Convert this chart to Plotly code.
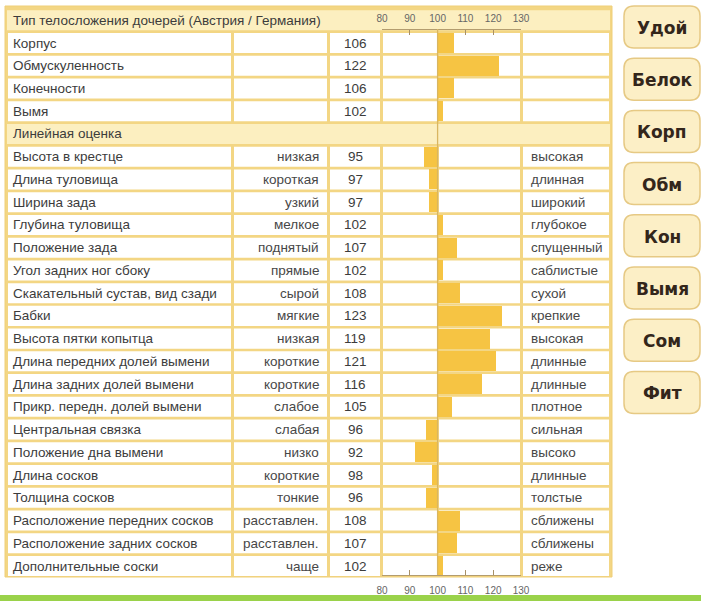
import plotly.graph_objects as go

# ---------------- data ----------------
header_type = "Тип телосложения дочерей (Австрия / Германия)"
header_linear = "Линейная оценка"

type_names = ["Корпус", "Обмускуленность", "Конечности", "Вымя"]
type_values = [106, 122, 106, 102]

lin_names = [
    "Высота в крестце", "Длина туловища", "Ширина зада", "Глубина туловища",
    "Положение зада", "Угол задних ног сбоку", "Скакательный сустав, вид сзади",
    "Бабки", "Высота пятки копытца", "Длина передних долей вымени",
    "Длина задних долей вымени", "Прикр. передн. долей вымени",
    "Центральная связка", "Положение дна вымени", "Длина сосков",
    "Толщина сосков", "Расположение передних сосков",
    "Расположение задних сосков", "Дополнительные соски",
]
lin_low = [
    "низкая", "короткая", "узкий", "мелкое", "поднятый", "прямые", "сырой",
    "мягкие", "низкая", "короткие", "короткие", "слабое", "слабая", "низко",
    "короткие", "тонкие", "расставлен.", "расставлен.", "чаще",
]
lin_values = [95, 97, 97, 102, 107, 102, 108, 123, 119, 121, 116, 105, 96, 92,
              98, 96, 108, 107, 102]
lin_high = [
    "высокая", "длинная", "широкий", "глубокое", "спущенный", "саблистые",
    "сухой", "крепкие", "высокая", "длинные", "длинные", "плотное", "сильная",
    "высоко", "длинные", "толстые", "сближены", "сближены", "реже",
]

tick_vals = [80, 90, 100, 110, 120, 130]
buttons = ["Удой", "Белок", "Корп", "Обм", "Кон", "Вымя", "Сом", "Фит"]

# ---------------- layout geometry ----------------
W, H = 706, 601
ROW0, PITCH = 43.0, 22.74          # pixel centre of first data row, row pitch
Y_TOP = -ROW0 / PITCH
Y_BOT = (H - ROW0) / PITCH


def px(x):
    return x / W


def py(y):
    return 1 - y / H


def row_of_pixel(p):
    return (p - ROW0) / PITCH


FONT = "Liberation Sans, Arial, sans-serif"
BTNFONT = "DejaVu Sans, Verdana, sans-serif"
GAP = "#f3d684"
PALE = "#fcefc0"
BAR = "#f6c443"
TXT = "#3c3c3c"

# columns (pixel edges)
C_NAME = (8, 231)
C_LOW = (234, 327)
C_VAL = (330, 380)
C_CL = (383, 437)
C_CR = (439, 520)
C_HIGH = (523, 609)

# rows
type_rows = list(range(0, len(type_names)))
lin_start = len(type_names) + 1
lin_rows = list(range(lin_start, lin_start + len(lin_names)))
header_rows = [-1, len(type_names)]

shapes = []
annotations = []

# outer frame
shapes.append(dict(type="rect", xref="paper", yref="y", layer="below",
                   x0=px(5), x1=px(612), y0=row_of_pixel(6), y1=row_of_pixel(577),
                   fillcolor=GAP, line=dict(color="#efcf78", width=1)))

half = 0.44
for r in header_rows:
    shapes.append(dict(type="rect", xref="paper", yref="y", layer="below",
                       x0=px(7), x1=px(610), y0=r - half, y1=r + half,
                       fillcolor=PALE, line=dict(width=0)))

for r in type_rows + lin_rows:
    for (a, b) in (C_NAME, C_LOW, C_VAL, C_CL, C_CR, C_HIGH):
        shapes.append(dict(type="rect", xref="paper", yref="y", layer="below",
                           x0=px(a), x1=px(b), y0=r - half, y1=r + half,
                           fillcolor="white", line=dict(width=0)))

# reference line at 100
shapes.append(dict(type="line", xref="x", yref="y", layer="above",
                   x0=100, x1=100, y0=row_of_pixel(29), y1=row_of_pixel(575),
                   line=dict(color="#d9b661", width=1.3)))

# green strip at bottom
shapes.append(dict(type="rect", xref="paper", yref="paper", layer="below",
                   x0=0, x1=px(701), y0=py(601), y1=py(595),
                   fillcolor="#9ad24a", line=dict(width=0)))

# buttons (rounded rectangles)
BX0, BX1, BH, BTOP, BPITCH, R = 624, 700, 42, 6, 52.2, 10
for k, label in enumerate(buttons):
    t = BTOP + k * BPITCH
    b = t + BH
    path = (
        f"M {px(BX0 + R)},{py(t)} L {px(BX1 - R)},{py(t)} "
        f"Q {px(BX1)},{py(t)} {px(BX1)},{py(t + R)} "
        f"L {px(BX1)},{py(b - R)} Q {px(BX1)},{py(b)} {px(BX1 - R)},{py(b)} "
        f"L {px(BX0 + R)},{py(b)} Q {px(BX0)},{py(b)} {px(BX0)},{py(b - R)} "
        f"L {px(BX0)},{py(t + R)} Q {px(BX0)},{py(t)} {px(BX0 + R)},{py(t)} Z"
    )
    shapes.append(dict(type="path", xref="paper", yref="paper", layer="below",
                       path=path, fillcolor="#fcefc6",
                       line=dict(color="#e6c984", width=1.5)))
    annotations.append(dict(xref="paper", yref="paper", x=px((BX0 + BX1) / 2),
                            y=py(t + BH / 2 + 1), text=f"<b>{label}</b>",
                            showarrow=False, xanchor="center", yanchor="middle",
                            font=dict(family=BTNFONT, size=17, color="#33261b")))


def ann(x, r, text, anchor, size=13.5, color=TXT):
    annotations.append(dict(xref="paper", yref="y", x=px(x), y=r, text=text,
                            showarrow=False, xanchor=anchor, yanchor="middle",
                            font=dict(family=FONT, size=size, color=color)))


ann(11, -1, header_type, "left")
ann(11, len(type_names), header_linear, "left")

for r, n, v in zip(type_rows, type_names, type_values):
    ann(11, r, n, "left")
    ann(355, r, str(v), "center")

for r, n, lo, v, hi in zip(lin_rows, lin_names, lin_low, lin_values, lin_high):
    ann(11, r, n, "left")
    ann(321, r, lo, "right", color="#474747")
    ann(355, r, str(v), "center")
    ann(529, r, hi, "left", color="#474747")

# ---------------- bars ----------------
all_rows = type_rows + lin_rows
all_vals = type_values + lin_values

fig = go.Figure()
fig.add_trace(go.Bar(
    y=all_rows, x=[v - 100 for v in all_vals], base=100, orientation="h",
    width=0.88, marker=dict(color=BAR, line=dict(width=0)),
    xaxis="x", yaxis="y", hoverinfo="skip",
))
# invisible trace to activate the top axis
fig.add_trace(go.Scatter(x=[80, 130], y=[-1, -1], mode="markers",
                         marker=dict(opacity=0), xaxis="x2", yaxis="y",
                         hoverinfo="skip"))

axis_common = dict(
    domain=[px(382), px(521)], range=[80, 130], tickvals=tick_vals,
    ticks="inside", ticklen=5, tickwidth=1, tickcolor="#a89066",
    showline=True, linecolor="#b39c6e", linewidth=1,
    showgrid=False, zeroline=False, fixedrange=True, automargin=False,
    tickfont=dict(family=FONT, size=10, color="#666"),
)

fig.update_layout(
    width=W, height=H, margin=dict(l=0, r=0, t=0, b=0, pad=0, autoexpand=False),
    paper_bgcolor="white", plot_bgcolor="rgba(0,0,0,0)",
    showlegend=False, bargap=0,
    xaxis=dict(**axis_common, anchor="free", position=py(575), side="bottom",
               ticklabelstandoff=6),
    xaxis2=dict(**axis_common, anchor="free", position=py(29), side="top",
                overlaying="x", ticklabelstandoff=3),
    yaxis=dict(domain=[0, 1], range=[Y_BOT, Y_TOP], visible=False,
               fixedrange=True, automargin=False),
    shapes=shapes, annotations=annotations,
)

fig.write_html("out.html")
